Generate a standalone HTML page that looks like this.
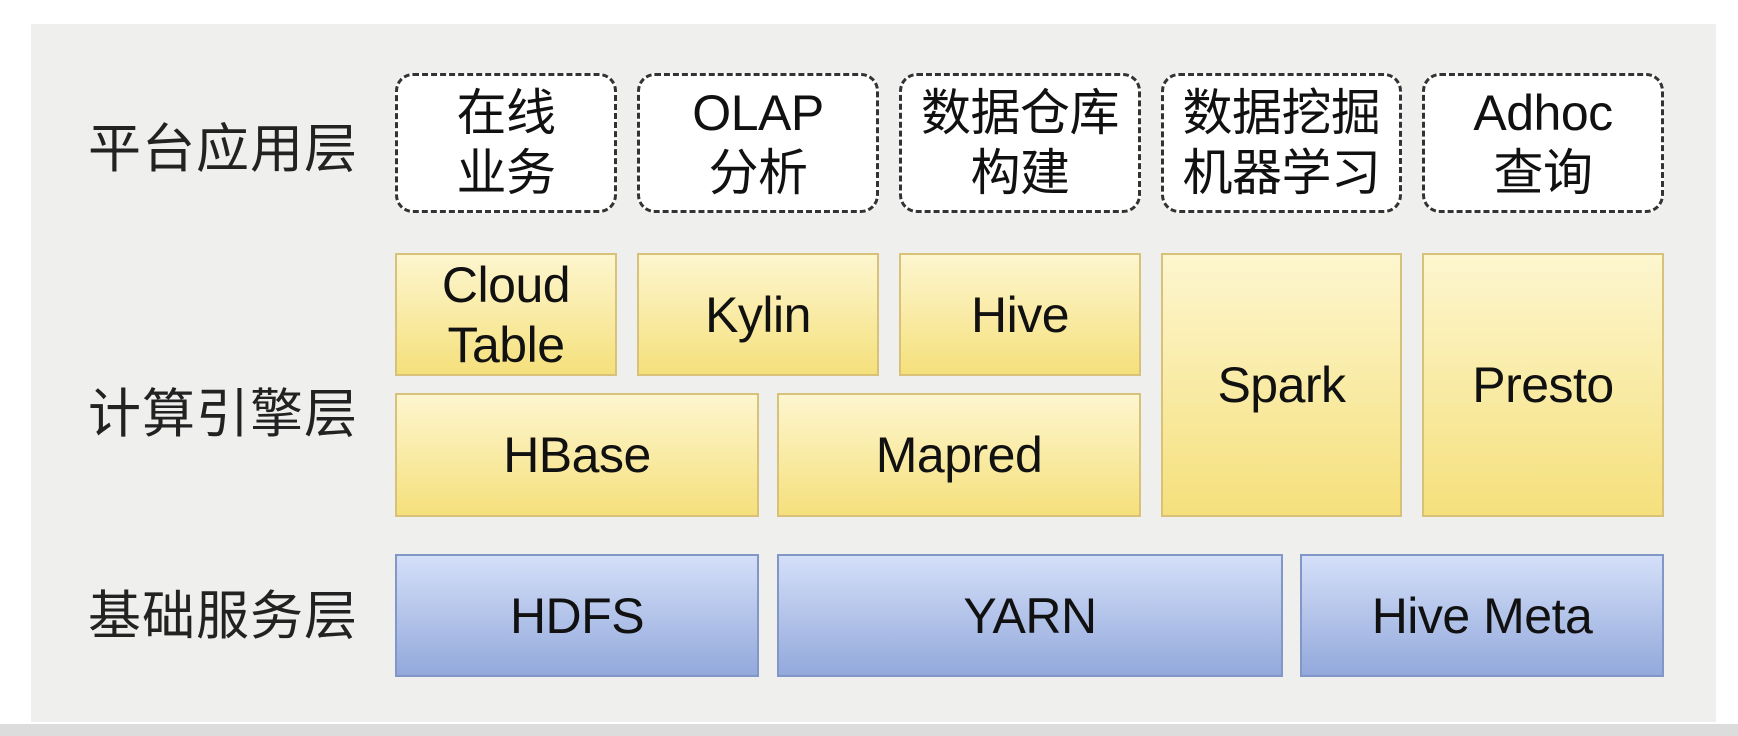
<!DOCTYPE html>
<html><head><meta charset="utf-8"><style>
html,body{margin:0;padding:0;background:#fff;}
body{width:1738px;height:736px;position:relative;overflow:hidden;font-family:"Liberation Sans","Noto Sans CJK SC",sans-serif;color:#111;}
.panel{position:absolute;left:31px;top:24px;width:1685px;height:698px;background:#efefed;}
.strip{position:absolute;left:0;top:724px;width:1738px;height:12px;background:#dcdcdc;}
.lbl{position:absolute;left:88px;font-size:53px;line-height:60px;color:#222;letter-spacing:1px;}
.b{position:absolute;box-sizing:border-box;display:flex;align-items:center;justify-content:center;text-align:center;font-size:50px;line-height:60px;letter-spacing:-0.5px;}
.d{background:#fff;border:3px dashed #333;border-radius:18px;}
.y{background:linear-gradient(#fdf6cf,#f5e07c);border:2px solid #d8c27a;}
.u{background:linear-gradient(#d4dff8,#93a9dc);border:2px solid #8296c8;}
</style></head><body>
<div class="panel"></div>
<div class="strip"></div>
<div class="lbl" style="top:120px">平台应用层</div>
<div class="lbl" style="top:385px">计算引擎层</div>
<div class="lbl" style="top:587px">基础服务层</div>

<div class="b d" style="left:395px;top:73px;width:222px;height:140px">在线<br>业务</div>
<div class="b d" style="left:637px;top:73px;width:242px;height:140px">OLAP<br>分析</div>
<div class="b d" style="left:899px;top:73px;width:242px;height:140px">数据仓库<br>构建</div>
<div class="b d" style="left:1161px;top:73px;width:241px;height:140px">数据挖掘<br>机器学习</div>
<div class="b d" style="left:1422px;top:73px;width:242px;height:140px">Adhoc<br>查询</div>

<div class="b y" style="left:395px;top:253px;width:222px;height:123px">Cloud<br>Table</div>
<div class="b y" style="left:637px;top:253px;width:242px;height:123px">Kylin</div>
<div class="b y" style="left:899px;top:253px;width:242px;height:123px">Hive</div>
<div class="b y" style="left:1161px;top:253px;width:241px;height:264px">Spark</div>
<div class="b y" style="left:1422px;top:253px;width:242px;height:264px">Presto</div>
<div class="b y" style="left:395px;top:393px;width:364px;height:124px">HBase</div>
<div class="b y" style="left:777px;top:393px;width:364px;height:124px">Mapred</div>

<div class="b u" style="left:395px;top:554px;width:364px;height:123px">HDFS</div>
<div class="b u" style="left:777px;top:554px;width:506px;height:123px">YARN</div>
<div class="b u" style="left:1300px;top:554px;width:364px;height:123px">Hive Meta</div>
</body></html>
